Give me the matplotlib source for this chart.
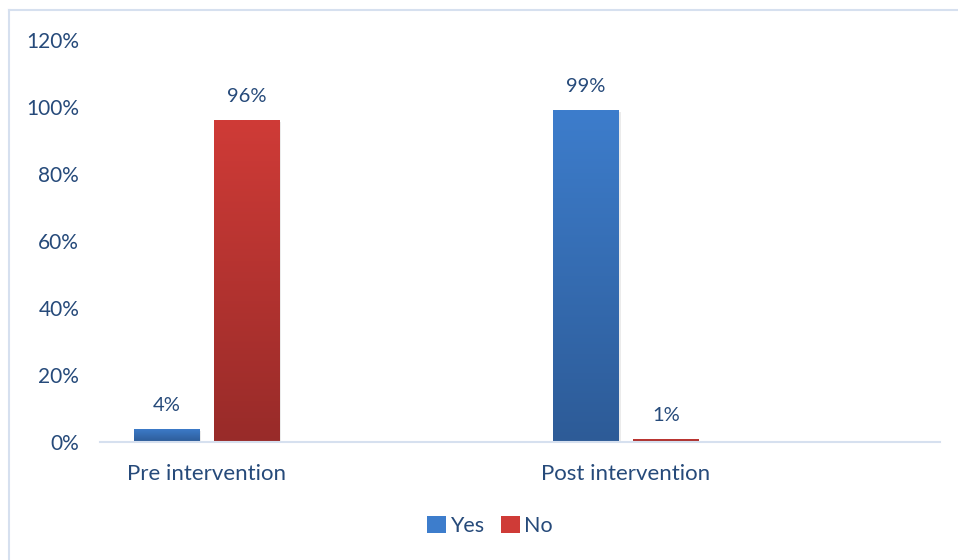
import numpy as np
import matplotlib.pyplot as plt
from matplotlib.patches import Rectangle
from matplotlib.lines import Line2D
from matplotlib.colors import LinearSegmentedColormap
from matplotlib.ticker import FuncFormatter

categories = ['Pre intervention', 'Post intervention']
series = ['Yes', 'No']
yes_vals = [4, 99]
no_vals = [96, 1]

text_color = '#264a7a'
plt.rcParams['font.family'] = ['Lato', 'DejaVu Sans']

# gradient colours (top, bottom)
grad = {
    'Yes': ('#3d7dcc', '#2d5b97'),
    'No': ('#cf3b37', '#982b29'),
}

fig = plt.figure(figsize=(9.58, 5.6), dpi=100)
ax = fig.add_axes([100 / 958, 1 - 442 / 560, 840 / 958, 402 / 560])

x = np.arange(len(categories))
width = 0.157
offsets = [-0.0955, 0.0955]


def gradient_bar(ax, xc, h, c_top, c_bot):
    cmap = LinearSegmentedColormap.from_list('g', [c_bot, c_top])
    rect = Rectangle((xc - width / 2, 0), width, h, facecolor='none',
                     edgecolor='none')
    ax.add_patch(rect)
    # soft shadow at right/bottom
    sh = Rectangle((xc - width / 2 + 0.004, -0.6), width, h, facecolor='#000000',
                   alpha=0.08, edgecolor='none', zorder=1)
    ax.add_patch(sh)
    img = ax.imshow(np.linspace(0, 1, 256).reshape(-1, 1), cmap=cmap,
                    origin='lower', aspect='auto',
                    extent=(xc - width / 2, xc + width / 2, 0, max(h, 0.01)),
                    zorder=2, interpolation='bilinear')
    img.set_clip_path(rect)


for vals, name, off in zip([yes_vals, no_vals], series, offsets):
    for xi, v in zip(x, vals):
        gradient_bar(ax, xi + off, v, *grad[name])
        ax.text(xi + off, v + 4.5, f'{v}%', ha='center', va='bottom',
                fontsize=14.5, color=text_color)

ax.set_xlim(-0.255, 1.749)
ax.set_ylim(0, 120)
ax.set_yticks(np.arange(0, 121, 20))
ax.yaxis.set_major_formatter(FuncFormatter(lambda v, p: f'{v:.0f}%'))
ax.set_xticks(x)
ax.set_xticklabels(categories)
ax.tick_params(axis='both', length=0, labelcolor=text_color)
ax.tick_params(axis='y', pad=15, labelsize=15)
ax.tick_params(axis='x', pad=16, labelsize=16)
for s in ['top', 'right', 'left']:
    ax.spines[s].set_visible(False)
ax.spines['bottom'].set_color('#d6e0ef')
ax.spines['bottom'].set_linewidth(1.5)

# legend
handles = [Rectangle((0, 0), 1, 1, facecolor=grad[n][0], edgecolor='none')
           for n in series]
fig.legend(handles, series, loc='center', bbox_to_anchor=(490 / 958, 1 - 526 / 560),
           ncol=2, frameon=False, prop={'size': 15.5}, labelcolor=text_color,
           handlelength=0.85, handleheight=0.85, handletextpad=0.2,
           columnspacing=0.8)

# chart border
fig.add_artist(Line2D([9 / 958, 9 / 958], [0, 1 - 9.5 / 560],
                      color='#d6e0ef', lw=1.5, transform=fig.transFigure))
fig.add_artist(Line2D([9 / 958, 1], [1 - 9.5 / 560, 1 - 9.5 / 560],
                      color='#d6e0ef', lw=1.5, transform=fig.transFigure))

fig.savefig('out.png', dpi=100)
